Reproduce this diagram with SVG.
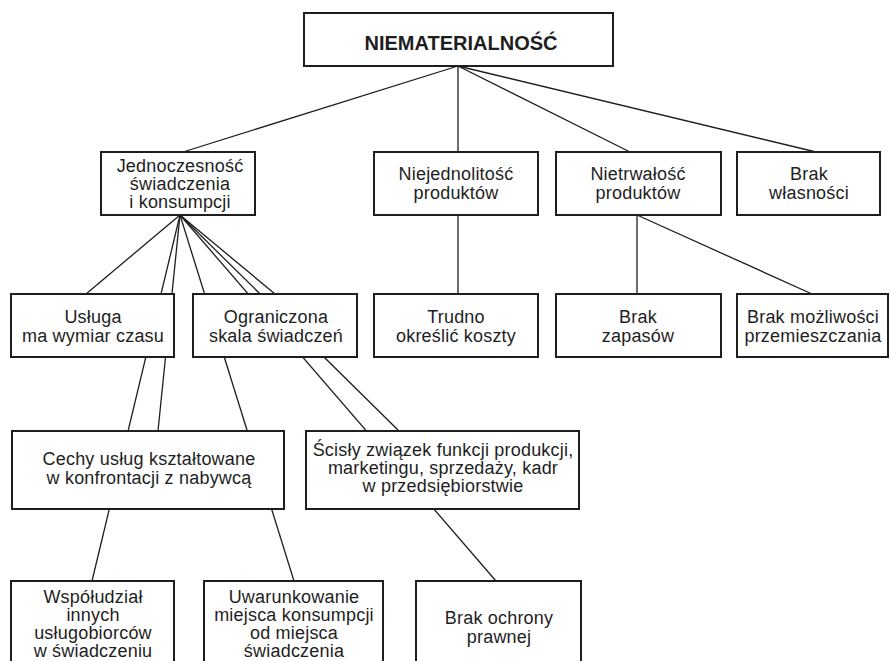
<svg xmlns="http://www.w3.org/2000/svg" width="893" height="661" viewBox="0 0 893 661">
  <style>
    .box { fill: #ffffff; stroke: #1e1e1e; stroke-width: 2; }
    .lbl { font-family: "Liberation Sans", Arial, sans-serif; font-size: 18px; fill: #1e1e1e; text-anchor: middle; letter-spacing: 0.2px; }
    .title { font-family: "Liberation Sans", Arial, sans-serif; font-size: 20px; font-weight: bold; fill: #1e1e1e; text-anchor: middle; }
    .edge { stroke: #1e1e1e; stroke-width: 1.3; fill: none; }
  </style>
  <rect width="893" height="661" fill="#ffffff"/>

  <!-- connectors (drawn first so the filled boxes cover the parts that pass behind them) -->
  <g id="connectors" class="edge">
    <line x1="458" y1="66" x2="183" y2="152"/>
    <line x1="458" y1="66" x2="458" y2="152"/>
    <line x1="458" y1="66" x2="630" y2="152"/>
    <line x1="458" y1="66" x2="816" y2="152"/>

    <line x1="180" y1="215" x2="86" y2="294"/>
    <line x1="180" y1="215" x2="92" y2="581"/>
    <line x1="180" y1="215" x2="158" y2="431"/>
    <line x1="180" y1="215" x2="294" y2="581"/>
    <line x1="180" y1="215" x2="496" y2="581"/>
    <line x1="180" y1="215" x2="399" y2="431"/>
    <line x1="180" y1="215" x2="275" y2="294"/>

    <line x1="458" y1="215" x2="458" y2="294"/>
    <line x1="637" y1="215" x2="637" y2="294"/>
    <line x1="637" y1="215" x2="812" y2="294"/>
  </g>

  <g id="niematerialnosc">
    <rect class="box" x="304" y="13" width="309" height="53"/>
    <text class="title" x="461" y="50">NIEMATERIALNOŚĆ</text>
  </g>

  <g id="jednoczesnosc">
    <rect class="box" x="101" y="152" width="154" height="63"/>
    <text class="lbl" x="180" y="172">Jednoczesność</text>
    <text class="lbl" x="180" y="190">świadczenia</text>
    <text class="lbl" x="180" y="208">i konsumpcji</text>
  </g>

  <g id="niejednolitosc">
    <rect class="box" x="374" y="152" width="164" height="63"/>
    <text class="lbl" x="456" y="180">Niejednolitość</text>
    <text class="lbl" x="456" y="199">produktów</text>
  </g>

  <g id="nietrwalosc">
    <rect class="box" x="556" y="152" width="165" height="63"/>
    <text class="lbl" x="638" y="180">Nietrwałość</text>
    <text class="lbl" x="638" y="199">produktów</text>
  </g>

  <g id="brak-wlasnosci">
    <rect class="box" x="737" y="152" width="143" height="63"/>
    <text class="lbl" x="809" y="180">Brak</text>
    <text class="lbl" x="809" y="199">własności</text>
  </g>

  <g id="usluga">
    <rect class="box" x="11" y="294" width="163" height="63"/>
    <text class="lbl" x="93" y="323">Usługa</text>
    <text class="lbl" x="93" y="342">ma wymiar czasu</text>
  </g>

  <g id="ograniczona">
    <rect class="box" x="193" y="294" width="164" height="63"/>
    <text class="lbl" x="276" y="323">Ograniczona</text>
    <text class="lbl" x="276" y="342">skala świadczeń</text>
  </g>

  <g id="trudno">
    <rect class="box" x="374" y="294" width="164" height="63"/>
    <text class="lbl" x="456" y="323">Trudno</text>
    <text class="lbl" x="456" y="342">określić koszty</text>
  </g>

  <g id="brak-zapasow">
    <rect class="box" x="556" y="294" width="165" height="63"/>
    <text class="lbl" x="638" y="323">Brak</text>
    <text class="lbl" x="638" y="342">zapasów</text>
  </g>

  <g id="brak-mozliwosci">
    <rect class="box" x="737" y="294" width="151" height="63"/>
    <text class="lbl" x="813" y="323">Brak możliwości</text>
    <text class="lbl" x="813" y="342">przemieszczania</text>
  </g>

  <g id="cechy">
    <rect class="box" x="12" y="431" width="272" height="78"/>
    <text class="lbl" x="149" y="465">Cechy usług kształtowane</text>
    <text class="lbl" x="149" y="484">w konfrontacji z nabywcą</text>
  </g>

  <g id="scisly">
    <rect class="box" x="306" y="431" width="273" height="78"/>
    <text class="lbl" x="443" y="456">Ścisły związek funkcji produkcji,</text>
    <text class="lbl" x="443" y="474">marketingu, sprzedaży, kadr</text>
    <text class="lbl" x="443" y="492">w przedsiębiorstwie</text>
  </g>

  <g id="wspoludzial">
    <rect class="box" x="11" y="581" width="163" height="90"/>
    <text class="lbl" x="93" y="603">Współudział</text>
    <text class="lbl" x="93" y="621">innych</text>
    <text class="lbl" x="93" y="639">usługobiorców</text>
    <text class="lbl" x="93" y="657">w świadczeniu</text>
  </g>

  <g id="uwarunkowanie">
    <rect class="box" x="204" y="581" width="179" height="90"/>
    <text class="lbl" x="294" y="603">Uwarunkowanie</text>
    <text class="lbl" x="294" y="621">miejsca konsumpcji</text>
    <text class="lbl" x="294" y="639">od miejsca</text>
    <text class="lbl" x="294" y="657">świadczenia</text>
  </g>

  <g id="brak-ochrony">
    <rect class="box" x="416" y="581" width="165" height="90"/>
    <text class="lbl" x="499" y="624">Brak ochrony</text>
    <text class="lbl" x="499" y="643">prawnej</text>
  </g>
</svg>
